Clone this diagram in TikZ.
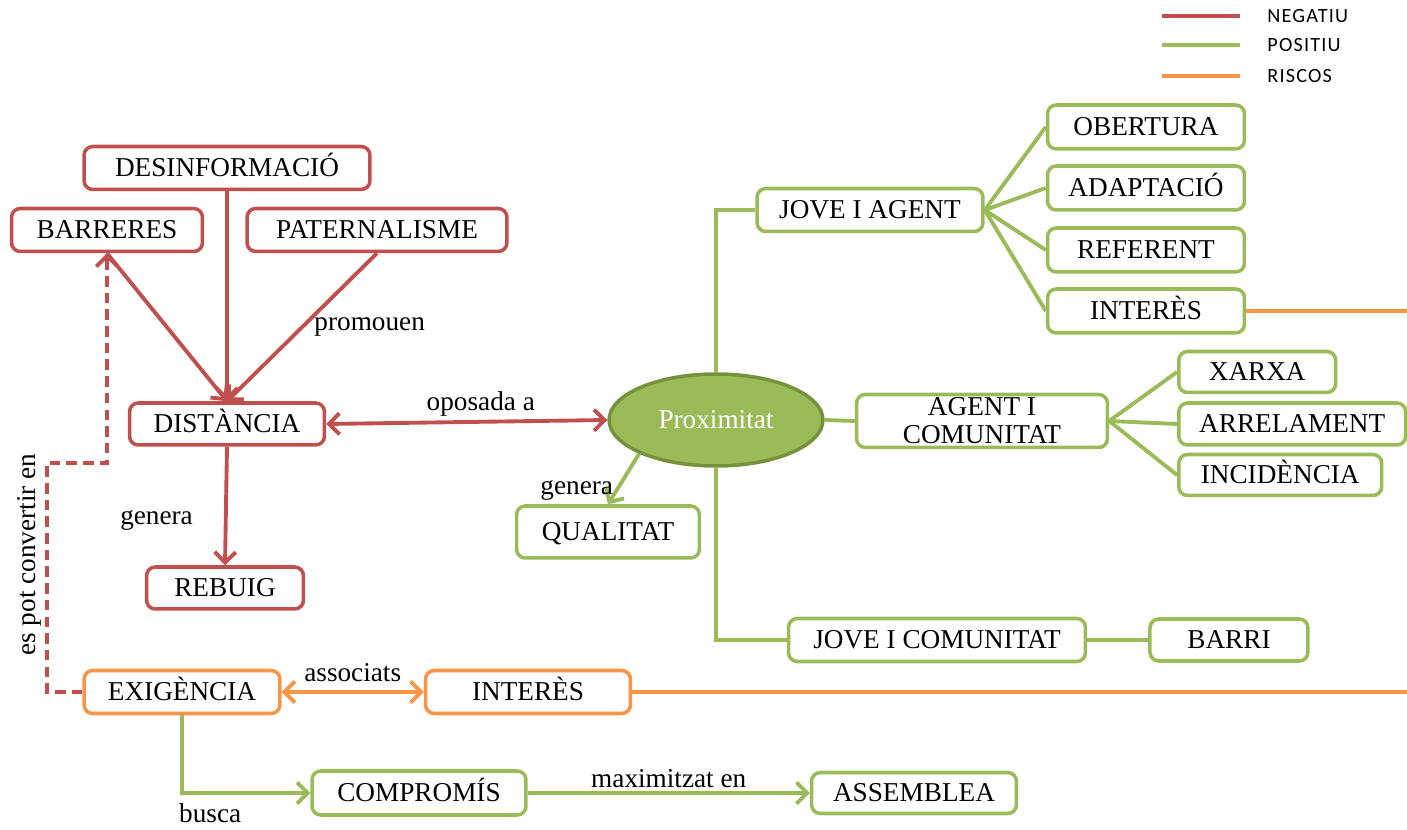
\documentclass[tikz,border=0pt]{standalone}
\usepackage{fontspec}
\setmainfont{Liberation Serif}
\newfontfamily\legendfont[LetterSpace=6]{Carlito}
\usetikzlibrary{arrows.meta, positioning, shapes.geometric}
\definecolor{negred}{RGB}{192, 80, 77}
\definecolor{posgreen}{RGB}{155, 187, 89}
\definecolor{darkgreen}{RGB}{118, 146, 60}
\definecolor{riskorange}{RGB}{247, 150, 70}
\newcommand{\boxfont}{\fontsize{15.5}{18}\selectfont}
\tikzset{
  negbox/.style={rectangle, rounded corners=5pt, draw=negred, line width=2pt,
              fill=white, minimum width=#1, minimum height=0.86cm,
              font=\boxfont, inner sep=1pt, text height=13pt, text depth=3pt},
  negbox/.default=3.9cm,
  posbox/.style={rectangle, rounded corners=5pt, draw=posgreen, line width=2pt,
              fill=white, minimum width=#1, minimum height=0.86cm,
              font=\boxfont, inner sep=1pt, text height=13pt, text depth=3pt},
  posbox/.default=3.9cm,
  riskbox/.style={rectangle, rounded corners=5pt, draw=riskorange, line width=2pt,
              fill=white, minimum width=#1, minimum height=0.86cm,
              font=\boxfont, inner sep=1pt, text height=13pt, text depth=3pt},
  riskbox/.default=3.9cm,
  centre/.style={ellipse, draw=darkgreen, line width=2pt, fill=posgreen,
              minimum width=4.28cm, minimum height=1.84cm, font=\boxfont,
              text=white, inner sep=0pt},
  negline/.style={draw=negred, line width=2.2pt},
  posline/.style={draw=posgreen, line width=2.2pt},
  riskline/.style={draw=riskorange, line width=2.2pt},
  negarrow/.style={negline, -{Straight Barb[length=6pt, width=12pt]}},
  posarrow/.style={posline, -{Straight Barb[length=6pt, width=12pt]}},
  negdash/.style={negline, dash pattern=on 6pt off 3.5pt,
              -{Straight Barb[length=6pt, width=12pt]}},
  lbl/.style={font=\boxfont, inner sep=2pt},
}
\begin{document}
\begin{tikzpicture}[x=0.02cm, y=-0.02cm]
  \useasboundingbox (0,0) rectangle (1407,830);

  % legend
  \foreach \yy/\col/\txt in {16/negred/NEGATIU, 45/posgreen/POSITIU, 76/riskorange/RISCOS}{
    \draw[\col, line width=2.3pt] (1162,\yy) -- (1240,\yy);
    \node[anchor=west, font=\legendfont\fontsize{11.5}{13}\selectfont, inner sep=0pt] (leg\yy) at (1267,\yy) {\txt};
  }

  % negative side
  \node[negbox=5.72cm] (desinf) at (227,168) {DESINFORMACIÓ};
  \node[negbox=3.82cm] (barr) at (107,230) {BARRERES};
  \node[negbox=5.2cm] (patern) at (377,230) {PATERNALISME};
  \node[negbox=3.9cm, minimum height=0.84cm] (dist) at (227,424) {DISTÀNCIA};
  \node[negbox=3.14cm, minimum height=0.84cm] (rebuig) at (225,588) {REBUIG};

  % centre
  \node[centre] (prox) at (716,420) {Proximitat};
  \node[posbox=3.66cm, minimum height=1.04cm] (qual) at (608,532) {QUALITAT};

  % jove i agent
  \node[posbox=4.52cm] (jagent) at (870,210) {JOVE I AGENT};
  \node[posbox=3.94cm, minimum height=0.88cm] (obert) at (1146,127) {OBERTURA};
  \node[posbox=3.94cm, minimum height=0.88cm] (adapt) at (1146,188) {ADAPTACIÓ};
  \node[posbox=3.94cm, minimum height=0.88cm] (refer) at (1146,250) {REFERENT};
  \node[posbox=3.94cm, minimum height=0.88cm] (intt) at (1146,311) {INTERÈS};

  % agent i comunitat
  \node[posbox=5.02cm, minimum height=1.06cm, align=center, inner sep=0pt,
        text height=, text depth=, font=\fontsize{15.5}{16}\selectfont] (acom) at (982,421) {AGENT I\\COMUNITAT};
  \node[posbox=3.14cm, minimum height=0.82cm, anchor=west] (xarxa) at (1177,372) {XARXA};
  \node[posbox=4.54cm, minimum height=0.84cm, anchor=west] (arrel) at (1177,424) {ARRELAMENT};
  \node[posbox=4.06cm, minimum height=0.82cm, anchor=west] (incid) at (1177,475) {INCIDÈNCIA};

  % jove i comunitat
  \node[posbox=5.94cm] (jcom) at (937,640) {JOVE I COMUNITAT};
  \node[posbox=3.16cm, minimum height=0.84cm, right=1.22cm of jcom] (barri) {BARRI};

  % risks
  \node[riskbox=3.92cm] (exig) at (182,692) {EXIGÈNCIA};
  \node[riskbox=4.1cm] (intb) at (528,692) {INTERÈS};
  \node[posbox=4.28cm, minimum height=0.88cm] (comp) at (419,793) {COMPROMÍS};
  \node[posbox=4.1cm, minimum height=0.82cm] (assem) at (914,793) {ASSEMBLEA};
  \coordinate (riskend1) at (1407,311);
  \coordinate (riskend2) at (1407,692);
  \coordinate (dashturn) at (47,463);

  % connectors
  \draw[negarrow] (desinf.south) -- (dist.north);
  \draw[negarrow] (barr.south) -- (dist.north);
  \draw[negarrow] (patern.south) -- node[lbl, right=4pt]{promouen} (dist.north);
  \draw[negarrow] (dist.south) -- node[lbl, pos=0.62, left=0.55cm]{genera} (rebuig.north);
  \draw[negarrow, {Straight Barb[length=6pt, width=12pt]}-{Straight Barb[length=6pt, width=12pt]}]
        (dist.east) -- node[lbl, above, pos=0.55]{oposada a} (prox.west);
  \draw[negdash] (exig.west) -| node[lbl, pos=0.8, rotate=90, anchor=south]{es pot convertir en} (dashturn) -| (barr.south);

  \draw[posarrow] (prox.south west) -- node[lbl, pos=0.72, left=-1pt]{genera} (qual.north);
  \draw[posline] (prox.north) |- (jagent.west);
  \draw[posline] (prox.south) |- (jcom.west);
  \draw[posline] (prox.east) -- (acom.west);
  \foreach \n in {obert, adapt, refer, intt}
    \draw[posline] (jagent.east) -- (\n.west);
  \foreach \n in {xarxa, arrel, incid}
    \draw[posline] (acom.east) -- (\n.west);
  \draw[posline] (jcom.east) -- (barri.west);

  \draw[riskline] (intt.east) -- (riskend1);
  \draw[riskline] (intb.east) -- (riskend2);
  \draw[riskline, {Straight Barb[length=6pt, width=12pt]}-{Straight Barb[length=6pt, width=12pt]}]
        (exig.east) -- node[lbl, above=3pt]{associats} (intb.west);
  \draw[posarrow] (exig.south) |- node[lbl, pos=0.61, below=3pt]{busca} (comp.west);
  \draw[posarrow] (comp.east) -- node[lbl, above]{maximitzat en} (assem.west);
\end{tikzpicture}
\end{document}
